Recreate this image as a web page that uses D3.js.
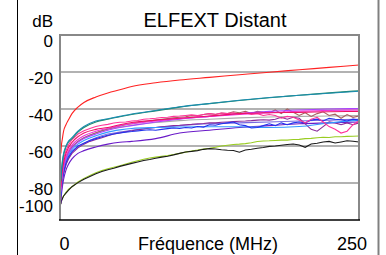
<!DOCTYPE html>
<html lang="fr">
<head>
<meta charset="utf-8">
<script src="https://d3js.org/d3.v7.min.js"></script>
<style>
body { margin: 0; background: #fff; }
svg { display: block; }
text { font-family: "Liberation Sans", Arial, sans-serif; fill: #000; }
</style>
</head>
<body>
<svg width="386" height="255"></svg>
<script>
// axis values
var yTicks = [0, -20, -40, -60, -80, -100];
var xTickLabels = ["0", "250"];
var title = "ELFEXT Distant";
var xTitle = "Fréquence (MHz)";
var yUnit = "dB";

// frequencies (MHz)
var fSmooth = [0.7, 1, 2, 3, 5, 7, 10, 15, 20, 30, 40, 50, 60, 80, 100, 125, 150, 175, 200, 225, 250];
var fNoisy = [0.7, 1, 2, 3, 5, 7, 10, 15,
  20, 25, 30, 35, 40, 45, 50, 55, 60, 65, 70, 75, 80, 85, 90, 95,
  100, 105, 110, 115, 120, 125, 130, 135, 140, 145, 150, 155, 160, 165, 170, 175,
  180, 185, 190, 195, 200, 205, 210, 215, 220, 225, 230, 235, 240, 245, 250];

// smooth pairs (values on fSmooth)
var red = [-64, -61, -56, -52, -48.5, -46, -42.5, -39, -36.5, -33.5, -31.3, -29.6, -27.8, -25.8, -24.3, -22.9, -21.5, -20.1, -18.8, -17.5, -16.2];
var darkGreen = [-79, -76, -69, -65, -60.5, -58, -56, -52.5, -50, -47, -45.5, -44.2, -43, -41, -39, -37.1, -35.4, -33.9, -32.6, -31.3, -30.1];
var teal = [-78, -75, -68, -64, -60, -57.5, -55.5, -52, -49.5, -46.5, -45.3, -44, -42.7, -40.8, -38.8, -37, -35.3, -33.8, -32.6, -31.5, -30.4];
var crimson = [-82, -79, -73, -69, -64, -61, -58, -55, -53, -51, -50, -48.5, -47.3, -46, -45, -43.8, -42.5, -42, -41.8, -41.5, -41.3];
var magenta = [-83, -80, -74, -70, -65.5, -62.5, -59.5, -56.5, -54.5, -52, -50.5, -49, -48, -46.5, -45.2, -44, -43, -42, -41.2, -40.8, -40.5];
var violet = [-85, -82, -76, -72, -67, -64, -61, -58, -56, -53.5, -51.5, -50, -49, -47, -45.5, -44, -42.5, -41.3, -40.5, -40, -39.7];
var gray = [-84, -81, -75, -71, -66.5, -63.5, -60.5, -57.5, -55.5, -53, -51, -49.8, -48.8, -47.3, -46.3, -45.5, -44.8, -44.3, -44, -43.8, -43.6];
var lightBlue = [-86, -83, -77, -73, -68, -65, -62, -59, -57, -54.5, -52.5, -51.3, -50.5, -50, -49.7, -49.6, -49.6, -50, -49.5, -47.5, -46];
var slateBlue = [-88, -85, -79, -75, -70, -67, -63.5, -60.5, -58.5, -55.5, -53.5, -52.5, -51.5, -50, -49, -48, -47.5, -47, -46.5, -46, -45.5];
var darkViolet = [-91, -88, -82, -78, -73, -70, -67, -64, -62.5, -60.5, -59, -58, -57.5, -56, -53, -51.5, -50, -49, -48, -47.5, -47];

// noisy pairs (values on fNoisy)
var brown = [-84, -81, -75, -71, -66.5, -63.5, -60.5, -57.5,
  -55.5, -54, -52.8, -51.7, -50.8, -50, -49.2, -48.5, -48, -47.4, -46.9, -46.5, -46, -45.6, -45.2, -44.8,
  -44.5, -44.2, -43.6, -43.8, -43, -42.5, -43, -42.2, -42.4, -41.5, -42, -41.2, -42.5, -41.3, -41.8, -42,
  -40.5, -42.5, -40, -41.8, -43.5, -42, -44, -42.5, -41.5, -43.5, -42.8, -45, -43, -44.5, -43.8];
var hotPink = [-80, -77, -71, -67, -62.5, -59.5, -56.5, -53.5,
  -51.8, -50.5, -49.5, -48.8, -48.3, -47.6, -47.2, -47, -46.5, -46.2, -45.5, -45.3, -45, -44.6, -44.5, -44,
  -43.8, -43.5, -43.2, -43.6, -43, -42.5, -42.8, -42.2, -42.5, -42, -42.8, -42, -43, -42.5, -43.5, -43,
  -43.5, -45, -44, -44.5, -46, -47.5, -45.5, -44.5, -47, -49.5, -51, -53, -52, -48.5, -46.5];
var blue = [-87, -84, -78, -74, -69, -66, -63, -60,
  -58.5, -57, -56, -55, -54.2, -53.5, -53, -52.5, -52.2, -51.8, -51.5, -51.2, -51.5, -51, -50.6, -50.3,
  -50.5, -50, -50.3, -49.5, -49.8, -48.5, -48.8, -48, -47.5, -47, -48.5, -49, -50.3, -50, -49, -48,
  -49, -47.5, -48.5, -47.5, -47, -47.5, -46, -45.5, -46.5, -45, -45.5, -45.8, -46.5, -45.5, -46];
var purple = [-88, -85, -79, -75, -70, -67, -64, -61,
  -59, -57.5, -56.5, -55.5, -54.5, -53.5, -53, -52.3, -51.8, -51.2, -50.8, -50.3, -50, -49.6, -49.3, -49,
  -48.8, -48.5, -48.3, -48, -47.8, -47.5, -47.5, -47.2, -47, -46.8, -46.6, -46.5, -46.3, -46, -45.8, -46,
  -45.5, -44.5, -45.5, -44.5, -45, -48, -51, -52, -49.5, -47, -47.5, -48.5, -47.5, -48.5, -47.5];
var yellowGreen = [-91, -90, -88, -87, -85, -83.5, -82, -79.5,
  -77.5, -76, -74.5, -73.3, -72.3, -71.5, -70.7, -69.7, -68.8, -68, -67.2, -66.5, -66, -65.6, -65.2, -64.6,
  -64, -63.3, -62.7, -62.2, -61.6, -61.2, -60.7, -60, -59.6, -59.2, -59, -58.7, -58.2, -57.6, -57.3, -57.2,
  -57, -56.8, -56.8, -56.5, -56.4, -56, -55.9, -55.5, -55.3, -55.4, -55, -55, -54.8, -54.7, -54.6];
var black = [-91.5, -90, -88.5, -87, -85.5, -84, -82, -79.8,
  -78, -76.5, -75, -73.8, -72.8, -72, -71, -70.2, -69.4, -68.6, -67.8, -67.3, -66.6, -66, -65.5, -64.8,
  -64, -63.2, -62.9, -62.5, -61.8, -61.4, -61.6, -62, -62.3, -62.4, -63.4, -62.2, -61.8, -61.2, -60.8, -60.2,
  -60, -59.6, -59.2, -58.9, -59.5, -60.7, -58.9, -58.5, -57.8, -57.5, -58.4, -57.8, -57.2, -57.4, -57.8];

var series = [
  {f: fNoisy, v: yellowGreen, c: "#99cc22", curve: d3.curveLinear},
  {f: fNoisy, v: black, c: "#1a1a1a", curve: d3.curveLinear},
  {f: fSmooth, v: darkViolet, c: "#6a1ac8", curve: d3.curveMonotoneX},
  {f: fSmooth, v: slateBlue, c: "#7868e0", curve: d3.curveMonotoneX},
  {f: fNoisy, v: purple, c: "#8a2a9a", curve: d3.curveLinear},
  {f: fSmooth, v: lightBlue, c: "#3399ff", curve: d3.curveMonotoneX},
  {f: fNoisy, v: blue, c: "#2233ee", curve: d3.curveLinear},
  {f: fSmooth, v: gray, c: "#aaaaaa", curve: d3.curveMonotoneX},
  {f: fNoisy, v: brown, c: "#a86060", curve: d3.curveLinear},
  {f: fSmooth, v: violet, c: "#aa44ff", curve: d3.curveMonotoneX},
  {f: fSmooth, v: magenta, c: "#ee33dd", curve: d3.curveMonotoneX},
  {f: fNoisy, v: hotPink, c: "#ff3399", curve: d3.curveLinear},
  {f: fSmooth, v: crimson, c: "#ee1166", curve: d3.curveMonotoneX},
  {f: fSmooth, v: darkGreen, c: "#228866", curve: d3.curveMonotoneX},
  {f: fSmooth, v: teal, c: "#1a8cb0", curve: d3.curveMonotoneX},
  {f: fSmooth, v: red, c: "#ff2222", curve: d3.curveMonotoneX}
];

var svg = d3.select("svg");
var plotL = 60, plotR = 359, plotT = 35, plotB = 220;

var x = d3.scaleLinear().domain([0, 250]).range([plotL, plotR]);
var y = d3.scaleLinear().domain([-100, 0]).range([plotB, plotT]);

// outer frame pieces
svg.append("line").attr("x1", 17.5).attr("x2", 17.5).attr("y1", 0).attr("y2", 255)
  .attr("stroke", "#000").attr("stroke-width", 1);
svg.append("line").attr("x1", 378.5).attr("x2", 378.5).attr("y1", 0).attr("y2", 255)
  .attr("stroke", "#808080").attr("stroke-width", 2);

// grid
svg.selectAll(".grid")
  .data(yTicks.filter(function(d) { return d > -100 && d < 0; }))
  .enter().append("line")
  .attr("x1", plotL).attr("x2", plotR)
  .attr("y1", function(d) { return y(d); })
  .attr("y2", function(d) { return y(d); })
  .attr("stroke", "#999").attr("stroke-width", 1.5);

// curves
var plot = svg.append("g");
series.forEach(function(s) {
  var line = d3.line()
    .x(function(d, i) { return x(s.f[i]); })
    .y(function(d) { return y(d); })
    .curve(s.curve);
  plot.append("path")
    .attr("d", line(s.v))
    .attr("fill", "none")
    .attr("stroke", s.c)
    .attr("stroke-width", 1.1);
});

// plot border
svg.append("path")
  .attr("d", "M" + plotL + "," + plotB + "V" + plotT + "H" + plotR + "V" + plotB)
  .attr("fill", "none").attr("stroke", "#888").attr("stroke-width", 2);
svg.append("line").attr("x1", plotL - 1).attr("x2", plotR + 1)
  .attr("y1", plotB).attr("y2", plotB)
  .attr("stroke", "#000").attr("stroke-width", 1.5);

// y labels
svg.selectAll(".ylab")
  .data(yTicks)
  .enter().append("text")
  .attr("x", 53)
  .attr("y", function(d) { return d === -100 ? y(d) - 8 : y(d) + 12; })
  .attr("text-anchor", "end")
  .attr("font-size", "17px")
  .text(function(d) { return d; });

svg.append("text").attr("x", 53).attr("y", 27).attr("text-anchor", "end")
  .attr("font-size", "17px").text(yUnit);

svg.append("text").attr("x", 215).attr("y", 27).attr("text-anchor", "middle")
  .attr("font-size", "20px").text(title);

// x labels
svg.append("text").attr("x", x(0) + 4.5).attr("y", 250).attr("text-anchor", "middle")
  .attr("font-size", "18px").text(xTickLabels[0]);
svg.append("text").attr("x", x(250) + 8).attr("y", 250).attr("text-anchor", "end")
  .attr("font-size", "18px").text(xTickLabels[1]);
svg.append("text").attr("x", 208).attr("y", 250).attr("text-anchor", "middle")
  .attr("font-size", "18px").text(xTitle);
</script>
</body>
</html>
